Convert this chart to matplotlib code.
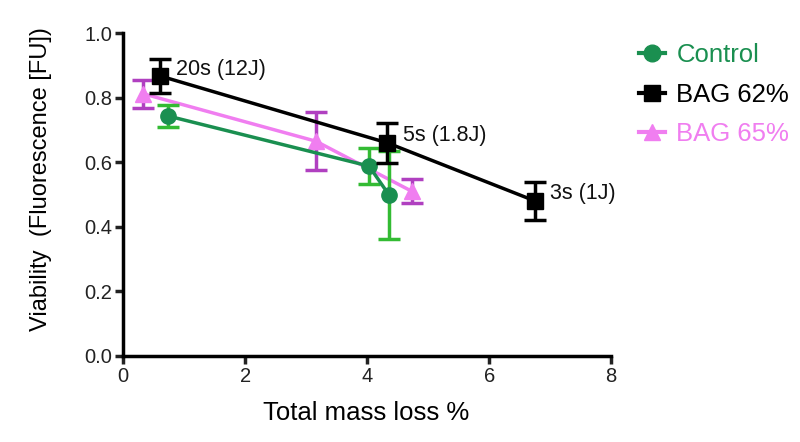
import matplotlib
matplotlib.use("Agg")
import matplotlib.pyplot as plt
from matplotlib.lines import Line2D

plt.rcParams['font.family'] = ['Liberation Sans', 'DejaVu Sans']

ctrl_x = [0.74, 4.03, 4.36]
ctrl_y = [0.743, 0.588, 0.498]
ctrl_err = [0.033, 0.056, 0.137]

b62_x = [0.61, 4.33, 6.75]
b62_y = [0.867, 0.66, 0.48]
b62_err = [0.053, 0.062, 0.058]

b65_x = [0.33, 3.16, 4.73]
b65_y = [0.812, 0.665, 0.51]
b65_err = [0.043, 0.09, 0.037]

annot = ["20s (12J)", "5s (1.8J)", "3s (1J)"]
labels = ['Control', 'BAG 62%', 'BAG 65%']

fig = plt.figure(figsize=(8, 4.42), dpi=100)
ax = fig.add_axes([0.154, 0.195, 0.61, 0.73])

green = '#1a8f50'
green_err = '#33bb33'
pink = '#f07ef0'
pink_err = '#b040c0'

ax.errorbar(ctrl_x, ctrl_y, yerr=ctrl_err, color=green, ecolor=green_err, marker='o',
            markersize=11, lw=2.5, elinewidth=2.5, capsize=8, capthick=2.5, zorder=3)
ax.errorbar(b62_x, b62_y, yerr=b62_err, color='black', ecolor='black', marker='s',
            markersize=11, lw=2.5, elinewidth=2.5, capsize=8, capthick=2.5, zorder=4)
ax.errorbar(b65_x, b65_y, yerr=b65_err, color=pink, ecolor=pink_err, marker='^',
            markersize=12, lw=2.5, elinewidth=2.5, capsize=8, capthick=2.5, zorder=2)

for x, y, t in zip(b62_x, b62_y, annot):
    ax.annotate(t, (x, y), xytext=(11, 5), textcoords='offset points', fontsize=15.5,
                va='center', ha='left', color='#111111')

ax.set_xlim(0, 8)
ax.set_ylim(0, 1.0)
ax.set_xticks([0, 2, 4, 6, 8])
ax.set_yticks([0.0, 0.2, 0.4, 0.6, 0.8, 1.0])
ax.set_yticklabels(['0.0', '0.2', '0.4', '0.6', '0.8', '1.0'])
ax.spines['top'].set_visible(False)
ax.spines['right'].set_visible(False)
ax.spines['left'].set_linewidth(2.5)
ax.spines['bottom'].set_linewidth(2.5)
ax.tick_params(width=2.5, length=6, labelsize=14.5, colors='#222222', pad=2)
ax.set_xlabel('Total mass loss %', fontsize=18.5, va='center')
ax.set_ylabel('Viability  (Fluorescence [FU])', fontsize=17, va='center')
ax.xaxis.set_label_coords(0.498, -0.176)
ax.yaxis.set_label_coords(-0.168, 0.548)

handles = [
    Line2D([], [], color=green, marker='o', markersize=12, lw=3),
    Line2D([], [], color='black', marker='s', markersize=11, lw=3),
    Line2D([], [], color=pink, marker='^', markersize=12, lw=3),
]
leg = ax.legend(handles, labels, loc='upper left', bbox_to_anchor=(1.01, 1.04), frameon=False,
                fontsize=18.5, handlelength=1.0, handletextpad=0.45, labelspacing=0.6)
for txt, c in zip(leg.get_texts(), [green, 'black', pink]):
    txt.set_color(c)

fig.savefig('out.png', dpi=100)
